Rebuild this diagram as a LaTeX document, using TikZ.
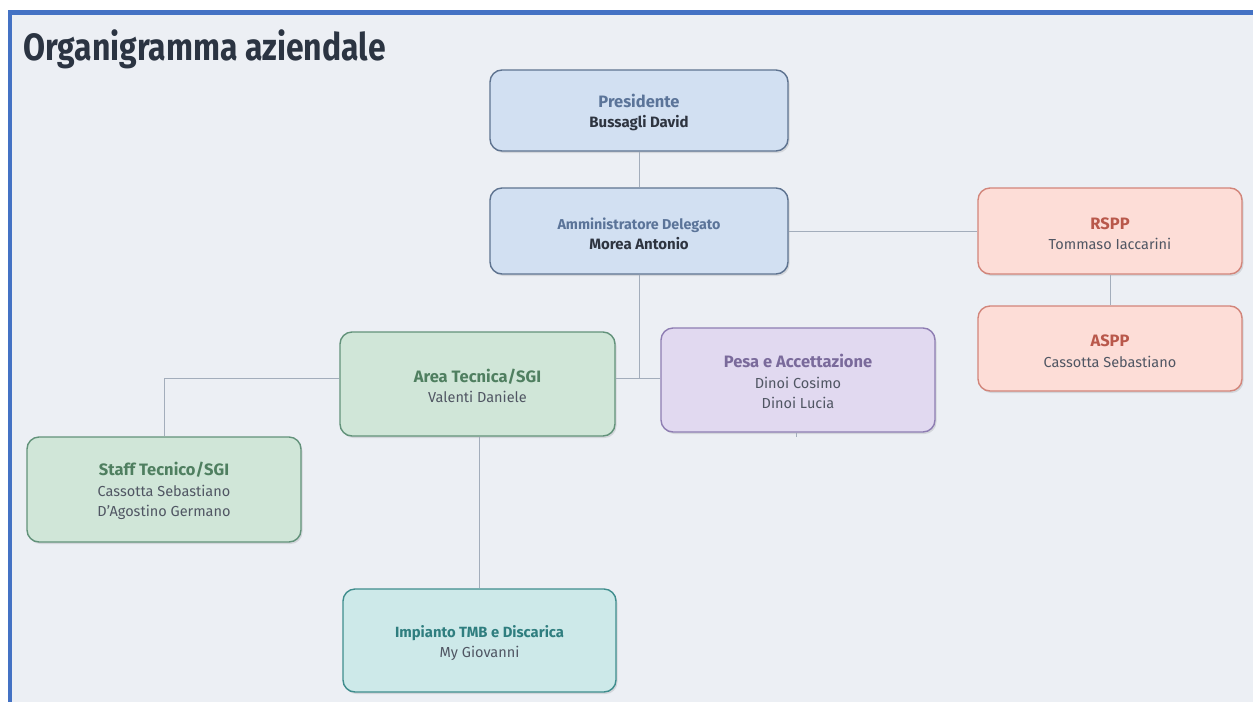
\documentclass[tikz,border=0pt]{standalone}
\usepackage{fontspec}
\setmainfont{Fira Sans}
\usetikzlibrary{shadows}
\definecolor{bg}{HTML}{ECEFF4}
\definecolor{frameblue}{HTML}{4472C4}
\definecolor{lineC}{HTML}{A3ADBB}
\definecolor{bluefill}{HTML}{D2E0F2}
\definecolor{bluedraw}{HTML}{5E7390}
\definecolor{bluetitle}{HTML}{5B7499}
\definecolor{darktext}{HTML}{2E3440}
\definecolor{redfill}{HTML}{FDDDD7}
\definecolor{reddraw}{HTML}{D2857A}
\definecolor{redtitle}{HTML}{B9584B}
\definecolor{greenfill}{HTML}{D0E6D8}
\definecolor{greendraw}{HTML}{62927A}
\definecolor{greentitle}{HTML}{4F7F60}
\definecolor{purplefill}{HTML}{E1D9F0}
\definecolor{purpledraw}{HTML}{8E7DB2}
\definecolor{purpletitle}{HTML}{7A6A9B}
\definecolor{tealfill}{HTML}{CDE9E9}
\definecolor{tealdraw}{HTML}{3F8D8D}
\definecolor{tealtitle}{HTML}{2F7E7F}
\definecolor{greytext}{HTML}{505663}
\definecolor{titletext}{HTML}{2B3442}
\newcommand{\boxhead}[3][16.5]{\rule{0pt}{17pt}{\fontsize{#1}{20.5}\selectfont\bfseries\color{#2}#3}}
\newcommand{\boldname}[1]{{\fontsize{15}{20.5}\selectfont\bfseries\color{darktext}#1}}
\begin{document}
\begin{tikzpicture}[x=1pt,y=-1pt,
  orgbox/.style={rectangle, rounded corners=12pt, line width=1.4pt, align=center, inner sep=0pt,
    font=\fontsize{14.5}{20.5}\selectfont, text=greytext,
    drop shadow={shadow xshift=1.5pt, shadow yshift=-2pt, opacity=0.10, fill=black}},
  bluebox/.style={orgbox, fill=bluefill, draw=bluedraw},
  redbox/.style={orgbox, fill=redfill, draw=reddraw},
  greenbox/.style={orgbox, fill=greenfill, draw=greendraw},
  purplebox/.style={orgbox, fill=purplefill, draw=purpledraw},
  tealbox/.style={orgbox, fill=tealfill, draw=tealdraw},
  conn/.style={draw=lineC, line width=1pt}
]
\useasboundingbox (0,0) rectangle (1253,702);
\fill[white] (0,0) rectangle (1253,702);
\fill[frameblue] (8,10) rectangle (1253,702);
\fill[bg] (12,15) rectangle (1253,702);

\node[anchor=base west, inner sep=0pt, font=\fontsize{38}{42}\selectfont\bfseries, text=titletext] (title) at (23,60) {\scalebox{0.84}[1]{Organigramma aziendale}};

\node[bluebox, minimum width=298pt, minimum height=81pt] (pres) at (639,110.5)
  {\boxhead{bluetitle}{Presidente}\\\boldname{Bussagli David}};
\node[bluebox, minimum width=298pt, minimum height=86pt] (ad) at (639,231)
  {\boxhead[14.3]{bluetitle}{Amministratore Delegato}\\\boldname{Morea Antonio}};
\node[redbox, minimum width=264pt, minimum height=86pt] (rspp) at (1110,231)
  {\boxhead{redtitle}{RSPP}\\Tommaso Iaccarini};
\node[redbox, minimum width=264pt, minimum height=85pt] (aspp) at (1110,348.5)
  {\boxhead{redtitle}{ASPP}\\Cassotta Sebastiano};
\node[greenbox, minimum width=275pt, minimum height=104pt] (area) at (477.5,384)
  {\boxhead{greentitle}{Area Tecnica/SGI}\\Valenti Daniele};
\node[purplebox, minimum width=274pt, minimum height=104pt] (pesa) at (798,380)
  {\boxhead{purpletitle}{Pesa e Accettazione}\\Dinoi Cosimo\\Dinoi Lucia};
\node[greenbox, minimum width=274pt, minimum height=105pt] (staff) at (164,489.5)
  {\boxhead{greentitle}{Staff Tecnico/SGI}\\Cassotta Sebastiano\\D’Agostino Germano};
\node[tealbox, minimum width=273pt, minimum height=103pt] (imp) at (479.5,640.5)
  {\boxhead[14.8]{tealtitle}{Impianto TMB e Discarica}\\My Giovanni};

\coordinate (j) at (639,378);
\coordinate (stub) at (796,437);
\draw[conn] (pres.south) -- (ad.north);
\draw[conn] (ad.east) -- (rspp.west);
\draw[conn] (rspp.south) -- (aspp.north);
\draw[conn] (ad.south) -- (j);
\draw[conn] (area.east |- j) -- (pesa.west |- j);
\draw[conn] (area.west |- j) -| (staff.north);
\draw[conn] (imp.north) -- (imp.north |- area.south);
\draw[conn] (pesa.south -| stub) -- (stub);
\end{tikzpicture}
\end{document}
